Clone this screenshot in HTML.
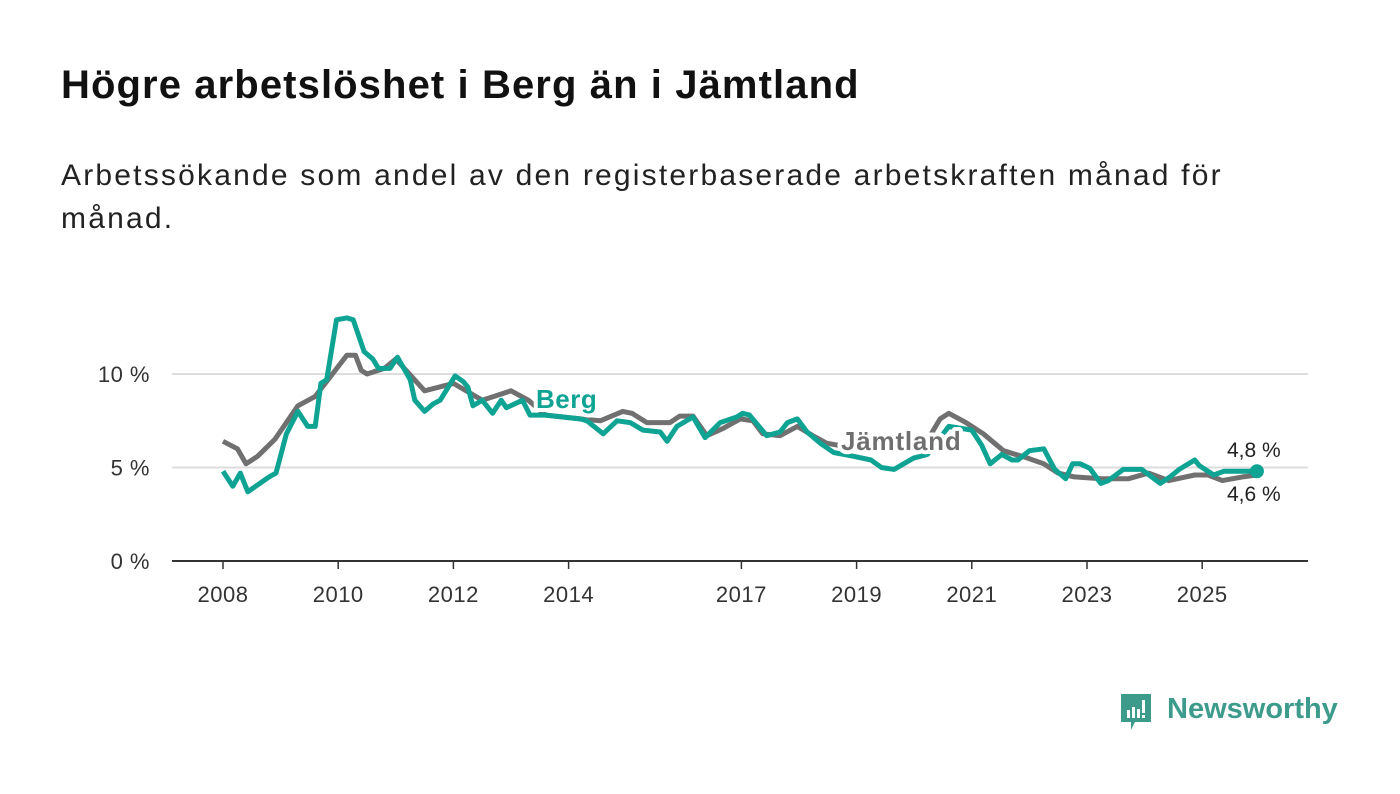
<!DOCTYPE html>
<html><head><meta charset="utf-8">
<style>
body{margin:0;background:#fff;width:1400px;height:794px;overflow:hidden;font-family:"Liberation Sans","DejaVu Sans",sans-serif;}
h1{position:absolute;left:61px;top:63px;margin:0;font-size:40px;font-weight:bold;color:#111;letter-spacing:1.1px}
.sub{position:absolute;left:61px;top:154px;margin:0;font-size:30px;line-height:43px;color:#222;width:1250px;letter-spacing:2.2px}
svg{position:absolute;left:0;top:0}
</style></head><body>
<h1>Högre arbetslöshet i Berg än i Jämtland</h1>
<p class="sub">Arbetssökande som andel av den registerbaserade arbetskraften månad för<br>månad.</p>
<svg id="chart" width="1400" height="794"></svg>
<div style="position:absolute;left:1119px;top:692px;height:40px;">
<svg width="36" height="42" style="position:absolute;left:0;top:0">
<path d="M2 2h30v28H16l-4 8v-8H2z" fill="#3d9b8c"/>
<rect x="8" y="18" width="3" height="8" fill="#fff"/><rect x="13" y="15" width="3" height="11" fill="#fff"/><rect x="18" y="17" width="3" height="9" fill="#fff"/><rect x="23" y="8" width="3" height="13" fill="#fff"/><rect x="23" y="23" width="3" height="3" fill="#fff"/>
</svg>
<span style="position:absolute;left:48px;top:1px;font-size:29px;font-weight:bold;color:#3d9b8c;white-space:nowrap">Newsworthy</span>
</div>
<script>
const yTicks=[0,5,10];
const yTickLabels=["0 %","5 %","10 %"];
const xTicks=[2008,2010,2012,2014,2017,2019,2021,2023,2025];
const jamtYears=[2008.0,2008.25,2008.4,2008.6,2008.9,2009.3,2009.6,2010.0,2010.15,2010.3,2010.4,2010.5,2010.8,2011.0,2011.5,2012.0,2012.5,2013.0,2013.3,2013.6,2014.2,2014.55,2014.94,2015.1,2015.36,2015.76,2015.93,2016.16,2016.4,2016.69,2016.98,2017.2,2017.37,2017.67,2017.97,2018.24,2018.48,2018.66,2019.0,2019.5,2019.8,2020.2,2020.45,2020.6,2020.9,2021.2,2021.55,2021.97,2022.25,2022.5,2022.78,2023.25,2023.72,2024.07,2024.42,2024.87,2025.1,2025.35,2025.7,2025.95];
const jamtVals=[6.4,6.0,5.2,5.6,6.5,8.3,8.8,10.4,11.0,11.0,10.2,10.0,10.3,10.8,9.1,9.5,8.6,9.1,8.6,7.8,7.6,7.5,8.0,7.9,7.4,7.4,7.75,7.75,6.7,7.1,7.6,7.5,6.8,6.7,7.2,6.7,6.3,6.2,6.2,6.1,6.0,6.3,7.6,7.9,7.4,6.8,5.9,5.5,5.2,4.7,4.5,4.4,4.4,4.7,4.3,4.6,4.6,4.3,4.5,4.6];
const bergYears=[2008.0,2008.17,2008.3,2008.43,2008.8,2008.92,2009.1,2009.3,2009.47,2009.6,2009.7,2009.8,2009.97,2010.15,2010.26,2010.45,2010.6,2010.7,2010.9,2011.03,2011.25,2011.33,2011.5,2011.65,2011.77,2012.03,2012.17,2012.25,2012.34,2012.5,2012.68,2012.83,2012.92,2013.2,2013.33,2013.6,2014.2,2014.32,2014.6,2014.84,2015.07,2015.29,2015.59,2015.71,2015.88,2016.16,2016.37,2016.63,2016.92,2017.02,2017.14,2017.44,2017.67,2017.8,2017.97,2018.14,2018.37,2018.6,2018.95,2019.25,2019.43,2019.65,2019.99,2020.23,2020.6,2021.0,2021.17,2021.32,2021.52,2021.7,2021.8,2022.0,2022.25,2022.44,2022.63,2022.75,2022.88,2023.05,2023.24,2023.37,2023.63,2023.95,2024.27,2024.44,2024.6,2024.87,2024.95,2025.2,2025.38,2025.62,2025.85,2025.95];
const bergVals=[4.8,4.0,4.7,3.7,4.5,4.7,6.8,8.0,7.2,7.2,9.5,9.7,12.9,13.0,12.9,11.2,10.8,10.3,10.3,10.9,9.7,8.6,8.0,8.4,8.6,9.9,9.6,9.3,8.3,8.6,7.9,8.6,8.2,8.6,7.8,7.8,7.6,7.5,6.8,7.5,7.4,7.0,6.9,6.4,7.2,7.7,6.6,7.4,7.7,7.9,7.8,6.7,6.9,7.4,7.6,6.9,6.3,5.8,5.6,5.4,5.0,4.9,5.5,5.7,7.2,7.0,6.2,5.2,5.7,5.4,5.4,5.9,6.0,4.9,4.4,5.2,5.2,4.95,4.15,4.3,4.9,4.9,4.15,4.5,4.9,5.4,5.1,4.6,4.8,4.8,4.8,4.8];
const x0=172,x1=1308;
const xs=y=>223+(y-2008)*57.6;
const ys=v=>561-v*18.7;
const svg=document.getElementById('chart');
const NS='http://www.w3.org/2000/svg';
function mk(t,a){const e=document.createElementNS(NS,t);for(const k in a)e.setAttribute(k,a[k]);svg.appendChild(e);return e;}
yTicks.forEach((t,i)=>{
  const l=mk('line',{x1:x0,x2:x1,y1:ys(t),y2:ys(t),stroke:t===0?'#333':'#ddd','stroke-width':2});
  
  
  const tx=mk('text',{x:150,y:ys(t)+8,'text-anchor':'end','font-size':22,fill:'#333','letter-spacing':'0.5'});
  tx.textContent=yTickLabels[i];
  
  
});
xTicks.forEach(t=>{
  const l=mk('line',{x1:xs(t),x2:xs(t),y1:561,y2:569,stroke:'#333','stroke-width':1.5});
  
  
  const tx=mk('text',{x:xs(t),y:602,'text-anchor':'middle','font-size':22,fill:'#333','letter-spacing':'0.5'});
  tx.textContent=t;
  
  
});
function path(yr,vs){return yr.map((y,i)=>(i?'L':'M')+xs(y).toFixed(1)+' '+ys(vs[i]).toFixed(1)).join(' ');}
const pj=mk('path',{d:path(jamtYears,jamtVals),fill:'none',stroke:'#707070','stroke-width':5,'stroke-linejoin':'round'});


const pb=mk('path',{d:path(bergYears,bergVals),fill:'none',stroke:'#0fa394','stroke-width':5,'stroke-linejoin':'round'});


const dot=mk('circle',{cx:xs(bergYears[bergYears.length-1]),cy:ys(bergVals[bergVals.length-1]),r:7,fill:'#0fa394'});


const lb=mk('text',{x:536,y:408,'font-size':26,'font-weight':'bold',fill:'#0fa394',stroke:'#fff','stroke-width':8,'paint-order':'stroke','stroke-linejoin':'round','letter-spacing':'0.5'});
lb.textContent='Berg';


const lj=mk('text',{x:841,y:450,'font-size':26,'font-weight':'bold',fill:'#6f6f6f',stroke:'#fff','stroke-width':8,'paint-order':'stroke','stroke-linejoin':'round','letter-spacing':'0.8'});
lj.textContent='Jämtland';


const v1=mk('text',{x:1227,y:457,'font-size':21,fill:'#222',stroke:'#fff','stroke-width':5,'paint-order':'stroke'});
v1.textContent='4,8 %';


const v2=mk('text',{x:1227,y:501,'font-size':21,fill:'#222',stroke:'#fff','stroke-width':5,'paint-order':'stroke'});
v2.textContent='4,6 %';


</script>
</body></html>
